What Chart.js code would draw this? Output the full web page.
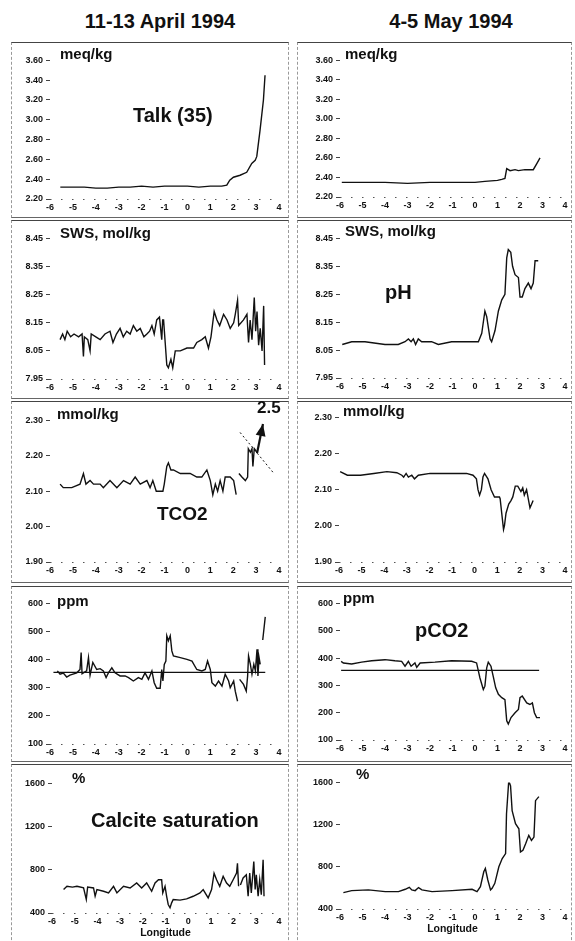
<!DOCTYPE html>
<html>
<head>
<meta charset="utf-8">
<script src="https://cdn.jsdelivr.net/npm/chart.js@4.4.1/dist/chart.umd.min.js"></script>
<style>
body { margin: 0; background: #fff; font-family: "Liberation Sans", Arial, sans-serif; }
#page { position: relative; width: 575px; height: 941px; overflow: hidden; background: #fff; }
.frame { position: absolute; box-sizing: border-box; border-top: 1px solid #444; border-bottom: 1px solid #666;
         border-left: 1px dashed #999; border-right: 1px dashed #999; }
.lbl { position: absolute; font-weight: bold; color: #111; white-space: nowrap; line-height: 1; transform: translateY(-50%); }
.head { position: absolute; font-weight: bold; font-size: 20px; color: #111; white-space: nowrap; line-height: 1;
        transform: translate(-50%, -50%); }
</style>
</head>
<body>
<div id="page">
  <div class="head" style="left:160px;top:21px">11-13 April 1994</div>
  <div class="head" style="left:451px;top:21px">4-5 May 1994</div>
</div>
<script>
// axis ticks
const xTicks = [-6, -5, -4, -3, -2, -1, 0, 1, 2, 3, 4];
const talkTicks = [2.2, 2.4, 2.6, 2.8, 3.0, 3.2, 3.4, 3.6];
const phTicks = [7.95, 8.05, 8.15, 8.25, 8.35, 8.45];
const tco2Ticks = [1.9, 2.0, 2.1, 2.2, 2.3];
const pco2Ticks = [100, 200, 300, 400, 500, 600];
const calcTicks = [400, 800, 1200, 1600];

// series: [longitude, value]
const talkApril = [[-5.55,2.32],[-5,2.32],[-4.5,2.32],[-4,2.31],[-3.5,2.31],[-3,2.32],[-2.5,2.32],[-2,2.33],[-1.5,2.32],
  [-1,2.33],[-0.5,2.33],[0,2.33],[0.5,2.32],[1,2.33],[1.5,2.33],[1.72,2.34],[1.85,2.39],[2.01,2.42],[2.3,2.44],
  [2.59,2.47],[2.81,2.56],[2.96,2.59],[3.03,2.63],[3.17,2.89],[3.32,3.2],[3.39,3.45]];
const talkMay = [[-5.92,2.35],[-5,2.35],[-4,2.35],[-3,2.34],[-2,2.35],[-1,2.35],[0,2.35],[0.44,2.36],[1.0,2.37],
  [1.19,2.38],[1.33,2.39],[1.41,2.49],[1.56,2.47],[1.78,2.48],[1.93,2.47],[2.22,2.48],[2.59,2.48],[2.74,2.54],[2.89,2.60]];

const phApril = [[-5.56,8.09],[-5.45,8.11],[-5.35,8.09],[-5.25,8.12],[-5.1,8.10],[-4.95,8.11],[-4.75,8.10],[-4.6,8.11],
  [-4.54,8.03],[-4.5,8.10],[-4.35,8.09],[-4.25,8.05],[-4.2,8.11],[-4.0,8.10],[-3.81,8.09],[-3.6,8.11],[-3.38,8.12],
  [-3.25,8.08],[-3.1,8.11],[-2.94,8.13],[-2.8,8.10],[-2.65,8.12],[-2.5,8.11],[-2.36,8.14],[-2.21,8.12],[-2.06,8.13],
  [-1.9,8.10],[-1.77,8.11],[-1.65,8.12],[-1.55,8.14],[-1.45,8.11],[-1.34,8.16],[-1.22,8.17],[-1.12,8.09],[-1.08,8.16],
  [-1.04,8.16],[-0.97,8.08],[-0.9,8.0],[-0.83,7.99],[-0.72,8.02],[-0.64,7.99],[-0.53,8.05],[-0.31,8.05],[-0.02,8.06],
  [0.27,8.06],[0.41,8.08],[0.63,8.09],[0.78,8.10],[0.92,8.06],[1.03,8.10],[1.17,8.19],[1.29,8.16],[1.41,8.14],
  [1.58,8.18],[1.73,8.16],[1.87,8.13],[2.02,8.15],[2.09,8.18],[2.19,8.23],[2.24,8.14],[2.45,8.16],[2.60,8.18],
  [2.67,8.08],[2.74,8.16],[2.82,8.09],[2.92,8.24],[2.98,8.12],[3.04,8.19],[3.11,8.07],[3.18,8.13],[3.26,8.05],
  [3.33,8.21],[3.37,8.0]];
const phMay = [[-5.9,8.07],[-5.48,8.08],[-4.89,8.08],[-4.0,8.07],[-3.41,8.07],[-3.11,8.08],[-2.96,8.09],[-2.84,8.08],
  [-2.74,8.09],[-2.64,8.07],[-2.52,8.09],[-2.37,8.08],[-1.93,8.08],[-1.63,8.07],[-1.04,8.08],[-0.15,8.08],[0.15,8.08],
  [0.30,8.11],[0.44,8.19],[0.52,8.17],[0.67,8.09],[0.74,8.08],[0.89,8.12],[1.04,8.19],[1.19,8.23],[1.33,8.25],
  [1.41,8.38],[1.48,8.41],[1.59,8.40],[1.67,8.35],[1.78,8.32],[1.93,8.31],[2.0,8.24],[2.1,8.24],[2.22,8.27],
  [2.37,8.29],[2.49,8.27],[2.59,8.29],[2.67,8.37],[2.81,8.37]];

const tco2April = [[-5.56,2.12],[-5.42,2.11],[-5.27,2.11],[-5.05,2.11],[-4.69,2.12],[-4.54,2.15],[-4.43,2.12],[-4.25,2.13],
  [-4.1,2.12],[-3.81,2.12],[-3.67,2.11],[-3.38,2.13],[-3.08,2.11],[-2.79,2.13],[-2.5,2.12],[-2.28,2.14],[-2.06,2.12],
  [-1.77,2.13],[-1.63,2.11],[-1.51,2.13],[-1.36,2.10],[-1.26,2.10],[-1.07,2.10],[-1.01,2.12],[-0.9,2.17],[-0.83,2.18],
  [-0.72,2.16],[-0.61,2.16],[-0.31,2.15],[0.12,2.15],[0.41,2.14],[0.63,2.14],[0.85,2.16],[1.0,2.13],[1.11,2.09],
  [1.22,2.12],[1.32,2.10],[1.43,2.13],[1.55,2.10],[1.65,2.14],[1.87,2.14],[2.02,2.13],[2.13,2.09],[2.19,null],
  [2.25,2.15],[2.38,2.14],[2.53,2.13],[2.63,2.14],[2.66,2.22],[2.75,2.21],[2.82,2.22],[2.86,2.17],[2.92,2.22],[3.04,2.21]];
const tco2May = [[-5.95,2.15],[-5.63,2.14],[-5.05,2.14],[-4.46,2.145],[-3.88,2.15],[-3.44,2.147],[-3.22,2.14],[-3.14,2.135],
  [-3.03,2.145],[-2.93,2.135],[-2.78,2.14],[-2.66,2.13],[-2.49,2.14],[-1.97,2.145],[-1.24,2.145],[-0.36,2.145],
  [-0.07,2.14],[0.08,2.13],[0.15,2.10],[0.22,2.085],[0.30,2.10],[0.37,2.135],[0.44,2.145],[0.59,2.13],[0.73,2.10],
  [0.88,2.08],[1.10,2.08],[1.13,2.075],[1.2,2.035],[1.28,1.99],[1.32,2.0],[1.39,2.035],[1.51,2.06],[1.61,2.07],
  [1.69,2.08],[1.80,2.11],[1.91,2.11],[2.05,2.095],[2.13,2.105],[2.20,2.085],[2.30,2.10],[2.39,2.07],[2.45,2.05],
  [2.52,2.06],[2.59,2.07]];
const tco2Arrow = [[3.04,2.207],[3.30,2.29]];
const tco2Cut = [[2.30,2.266],[3.78,2.15]];

const pco2April = [[-5.68,360],[-5.56,348],[-5.42,352],[-5.27,338],[-5.13,345],[-4.83,353],[-4.69,365],[-4.64,425],
  [-4.6,350],[-4.4,360],[-4.32,407],[-4.25,345],[-4.13,390],[-3.96,365],[-3.81,368],[-3.67,360],[-3.55,336],
  [-3.45,353],[-3.3,371],[-3.16,353],[-2.94,342],[-2.72,342],[-2.57,336],[-2.36,324],[-2.14,336],[-1.99,330],
  [-1.85,353],[-1.70,330],[-1.55,360],[-1.45,318],[-1.34,298],[-1.19,298],[-1.12,365],[-1.07,324],[-1.01,383],
  [-0.94,395],[-0.9,485],[-0.83,467],[-0.75,485],[-0.68,431],[-0.61,413],[-0.31,407],[-0.02,401],[0.2,395],
  [0.41,365],[0.63,360],[0.78,365],[0.88,395],[1.0,365],[1.07,318],[1.22,306],[1.36,324],[1.51,306],[1.65,348],
  [1.8,324],[1.87,300],[2.02,324],[2.09,288],[2.19,252],[2.23,null],[2.28,330],[2.45,312],[2.57,288],[2.63,342],
  [2.67,413],[2.75,383],[2.82,348],[2.9,383],[2.97,360],[3.04,437],[3.08,342],[3.13,407],[3.18,383],[3.23,null],
  [3.29,470],[3.4,552]];
const pco2May = [[-5.95,388],[-5.85,382],[-5.48,378],[-5.04,385],[-4.59,390],[-4.0,394],[-3.56,390],[-3.26,388],
  [-3.11,370],[-2.96,388],[-2.84,370],[-2.67,382],[-2.59,366],[-2.44,382],[-1.78,385],[-1.04,390],[-0.15,388],
  [0.07,382],[0.22,327],[0.37,285],[0.44,297],[0.52,364],[0.59,385],[0.71,370],[0.81,333],[0.92,291],[1.04,267],
  [1.19,255],[1.33,248],[1.41,170],[1.48,158],[1.6,182],[1.78,200],[1.93,212],[2.0,255],[2.1,261],[2.3,236],
  [2.44,230],[2.55,236],[2.64,200],[2.74,182],[2.89,182]];
const pco2Atm = 355;
const atmAprilLon = [-5.85, 3.4];
const atmMayLon = [-5.95, 2.85];

const calcApril = [[-5.49,617],[-5.34,647],[-5.1,640],[-4.9,647],[-4.61,632],[-4.49,525],[-4.43,640],[-4.17,632],
  [-4.1,555],[-4.02,617],[-3.73,601],[-3.51,586],[-3.29,647],[-3.14,586],[-2.85,647],[-2.56,632],[-2.27,678],
  [-2.05,632],[-1.83,678],[-1.61,601],[-1.46,678],[-1.31,708],[-1.17,708],[-1.12,586],[-1.02,647],[-0.95,555],
  [-0.88,479],[-0.8,448],[-0.73,494],[-0.66,525],[-0.36,519],[-0.07,531],[0.22,555],[0.52,586],[0.66,617],
  [0.88,540],[1.03,617],[1.14,769],[1.25,708],[1.39,647],[1.54,739],[1.69,678],[1.83,647],[1.98,708],[2.13,769],
  [2.17,861],[2.22,647],[2.27,null],[2.3,660],[2.42,724],[2.56,754],[2.64,555],[2.71,769],[2.78,586],[2.89,877],
  [2.95,617],[3.0,754],[3.08,555],[3.15,708],[3.22,570],[3.3,892],[3.34,555]];
const calcMay = [[-5.85,555],[-5.48,574],[-4.74,581],[-3.99,565],[-3.4,565],[-3.1,587],[-2.92,606],[-2.81,581],
  [-2.66,574],[-2.51,603],[-2.36,581],[-1.91,565],[-1.02,574],[-0.13,587],[0.09,565],[0.24,612],[0.39,753],
  [0.46,784],[0.57,675],[0.69,581],[0.76,596],[0.88,643],[1.06,800],[1.21,878],[1.36,925],[1.40,1301],[1.50,1615],
  [1.58,1568],[1.65,1333],[1.8,1208],[1.95,1160],[2.02,941],[2.13,957],[2.25,1019],[2.39,1098],[2.51,1050],
  [2.62,1082],[2.69,1427],[2.84,1465]];

const FONT = '"Liberation Sans", Arial, sans-serif';
const page = document.getElementById('page');

// dotted x axis line like the original plots
const dottedAxis = {
  id: 'dottedAxis',
  beforeDatasetsDraw(chart) {
    const { ctx, chartArea: a } = chart;
    ctx.save();
    ctx.strokeStyle = '#555';
    ctx.lineWidth = 1;
    ctx.setLineDash([1.5, 9.5]);
    ctx.beginPath();
    ctx.moveTo(a.left, Math.round(a.bottom) + 0.5);
    ctx.lineTo(a.right, Math.round(a.bottom) + 0.5);
    ctx.stroke();
    ctx.restore();
  }
};

const arrowHead = {
  id: 'arrowHead',
  afterDatasetsDraw(chart, args, opts) {
    if (!opts || !opts.pts) return;
    const { x, y } = chart.scales;
    const [a, b] = opts.pts;
    const x1 = x.getPixelForValue(a[0]), y1 = y.getPixelForValue(a[1]);
    const x2 = x.getPixelForValue(b[0]), y2 = y.getPixelForValue(b[1]);
    const ang = Math.atan2(y2 - y1, x2 - x1);
    const L = 12, W = 5, c = Math.cos(ang), s = Math.sin(ang);
    const ctx = chart.ctx;
    ctx.save();
    ctx.fillStyle = '#111';
    ctx.beginPath();
    ctx.moveTo(x2, y2);
    ctx.lineTo(x2 - L * c + W * s, y2 - L * s - W * c);
    ctx.lineTo(x2 - L * c - W * s, y2 - L * s + W * c);
    ctx.closePath();
    ctx.fill();
    ctx.restore();
  }
};

function line(pts, extra) {
  return Object.assign({
    data: pts.map(([x, y]) => ({ x, y })),
    borderColor: '#111', borderWidth: 1.4, pointRadius: 0, tension: 0, spanGaps: false, fill: false
  }, extra || {});
}

function makePanel(p) {
  const padTop = 8, padRight = 8, yW = 45, xH = p.bottom ? 26 : 16;
  const w = p.xR - p.xL + yW + padRight;
  const h = p.yB - p.yT + padTop + xH;
  const wrap = document.createElement('div');
  wrap.style.cssText = `position:absolute;left:${p.xL - yW}px;top:${p.yT - padTop}px;width:${w}px;height:${h}px`;
  const cv = document.createElement('canvas');
  cv.width = w; cv.height = h;
  wrap.appendChild(cv);
  page.appendChild(wrap);

  new Chart(cv, {
    type: 'line',
    data: { datasets: p.datasets },
    options: {
      responsive: false,
      animation: false,
      layout: { padding: { top: padTop, right: padRight, left: 0, bottom: 0 } },
      plugins: { legend: { display: false }, tooltip: { enabled: false }, arrowHead: { pts: p.arrow } },
      scales: {
        x: {
          type: 'linear', min: -6, max: 4,
          afterBuildTicks: s => { s.ticks = xTicks.map(v => ({ value: v })); },
          afterFit: s => { s.height = xH; },
          grid: { display: false, drawTicks: false },
          border: { display: false },
          ticks: { color: '#111', padding: 3, font: { family: FONT, size: 9, weight: 'bold' }, callback: v => String(v), maxRotation: 0 },
          title: { display: !!p.bottom, text: 'Longitude', color: '#111', padding: 0, font: { family: FONT, size: 10.5, weight: 'bold' } }
        },
        y: {
          type: 'linear', min: p.ticks[0], max: p.ticks[p.ticks.length - 1],
          afterBuildTicks: s => { s.ticks = p.ticks.map(v => ({ value: v })); },
          afterFit: s => { s.width = yW; },
          grid: { display: true, drawOnChartArea: false, drawTicks: true, tickLength: 4, color: '#444', lineWidth: 1 },
          border: { display: false },
          ticks: { color: '#111', padding: 3, font: { family: FONT, size: 9, weight: 'bold' }, callback: v => p.fmt(v) }
        }
      }
    },
    plugins: [dottedAxis, arrowHead]
  });
}

const f2 = v => v.toFixed(2);
const f0 = v => String(Math.round(v));

const panels = [
  { xL: 50, xR: 279, yT: 60, yB: 199, ticks: talkTicks, fmt: f2, datasets: [line(talkApril)] },
  { xL: 340, xR: 565, yT: 60, yB: 197, ticks: talkTicks, fmt: f2, datasets: [line(talkMay)] },
  { xL: 50, xR: 279, yT: 238, yB: 379, ticks: phTicks, fmt: f2, datasets: [line(phApril)] },
  { xL: 340, xR: 565, yT: 238, yB: 378, ticks: phTicks, fmt: f2, datasets: [line(phMay)] },
  { xL: 50, xR: 279, yT: 420, yB: 562, ticks: tco2Ticks, fmt: f2, arrow: tco2Arrow,
    datasets: [line(tco2April), line(tco2Arrow, { borderWidth: 2.2 }), line(tco2Cut, { borderWidth: 1, borderDash: [2, 2.5] })] },
  { xL: 339, xR: 565, yT: 417, yB: 562, ticks: tco2Ticks, fmt: f2, datasets: [line(tco2May)] },
  { xL: 50, xR: 279, yT: 603, yB: 744, ticks: pco2Ticks, fmt: f0,
    datasets: [line(pco2April), line(atmAprilLon.map(x => [x, pco2Atm]), { borderWidth: 1.3 })] },
  { xL: 340, xR: 565, yT: 603, yB: 740, ticks: pco2Ticks, fmt: f0,
    datasets: [line(pco2May), line(atmMayLon.map(x => [x, pco2Atm]), { borderWidth: 1.3 })] },
  { xL: 52, xR: 279, yT: 783, yB: 913, ticks: calcTicks, fmt: f0, bottom: true, datasets: [line(calcApril)] },
  { xL: 340, xR: 565, yT: 782, yB: 909, ticks: calcTicks, fmt: f0, bottom: true, datasets: [line(calcMay)] }
];

// panel frames
const frameRows = [[42, 218], [220, 399], [401, 583], [586, 762], [764, 950]];
const frameCols = [[11, 289], [297, 572]];
frameRows.forEach(([t, b]) => frameCols.forEach(([l, r]) => {
  const d = document.createElement('div');
  d.className = 'frame';
  d.style.cssText = `left:${l}px;top:${t}px;width:${r - l}px;height:${b - t}px`;
  page.appendChild(d);
}));

panels.forEach(makePanel);

// in-panel labels: [text, left, centerY, fontSize]
const labels = [
  ['meq/kg', 60, 53, 15], ['Talk (35)', 133, 115, 20], ['SWS, mol/kg', 60, 232, 15],
  ['mmol/kg', 57, 413, 15], ['2.5', 257, 407, 17], ['TCO2', 157, 513, 19],
  ['ppm', 57, 600, 15], ['%', 72, 777, 15], ['Calcite saturation', 91, 820, 20],
  ['meq/kg', 345, 53, 15], ['SWS, mol/kg', 345, 230, 15], ['pH', 385, 292, 20],
  ['mmol/kg', 343, 410, 15], ['ppm', 343, 597, 15], ['pCO2', 415, 630, 20], ['%', 356, 773, 15]
];
labels.forEach(([t, x, y, s]) => {
  const d = document.createElement('div');
  d.className = 'lbl';
  d.textContent = t;
  d.style.cssText = `left:${x}px;top:${y}px;font-size:${s}px`;
  page.appendChild(d);
});
</script>
</body>
</html>
